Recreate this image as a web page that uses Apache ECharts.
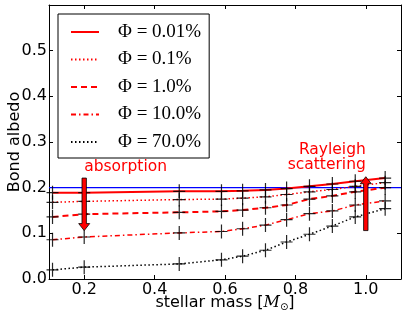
<!DOCTYPE html>
<html>
<head>
<meta charset="utf-8">
<script src="https://cdn.jsdelivr.net/npm/echarts@6/dist/echarts.min.js"></script>
<style>
  html, body { margin: 0; padding: 0; background: #fff; }
  #chart { width: 407px; height: 322px; }
</style>
</head>
<body>
<div id="chart"></div>
<script>
// stellar masses (M_sun) of the model points
const masses = [0.11, 0.2, 0.47, 0.59, 0.65, 0.715, 0.775, 0.84, 0.905, 0.97, 1.055];

// bond albedo per pressure fraction
const phi001 = [0.189, 0.189, 0.192, 0.192, 0.193, 0.195, 0.198, 0.203, 0.208, 0.214, 0.221];
const phi01  = [0.168, 0.170, 0.174, 0.175, 0.177, 0.180, 0.185, 0.191, 0.196, 0.203, 0.211];
const phi1   = [0.136, 0.142, 0.146, 0.148, 0.151, 0.156, 0.162, 0.175, 0.182, 0.191, 0.200];
const phi10  = [0.086, 0.092, 0.101, 0.104, 0.110, 0.118, 0.130, 0.143, 0.149, 0.162, 0.171];
const phi70  = [0.020, 0.026, 0.033, 0.042, 0.050, 0.063, 0.081, 0.098, 0.116, 0.136, 0.154];

const names = ['Φ=0.01%', 'Φ=0.1%', 'Φ=1.0%', 'Φ=10.0%', 'Φ=70.0%'];

const xTicks = [0.2, 0.4, 0.6, 0.8, 1.0];
const refLine = [[0.1, 0.2], [1.1, 0.2]];

// arrows: x, start y, end y (tip)
const arrowX = [0.2, 1.0];
const arrowFrom = [0.221, 0.106];
const arrowTo = [0.106, 0.224];

const noteText = ['absorption', 'Rayleigh\nscattering'];
const noteX = [0.2, 1.0];
const noteY = [0.245, 0.266];
const noteAlign = ['left', 'right'];

const pairs = ys => masses.map((m, i) => [m, ys[i]]);

const chart = echarts.init(document.getElementById('chart'));

const lineDefs = [
  { data: phi001, color: '#ff0000', width: 2, type: 'solid' },
  { data: phi01, color: '#ff0000', width: 1.5, type: [1.5, 2.5] },
  { data: phi1, color: '#ff0000', width: 2, type: [6, 4] },
  { data: phi10, color: '#ff0000', width: 1.5, type: [5, 3, 1.5, 3] },
  { data: phi70, color: '#000000', width: 1.5, type: [1.5, 2.5] }
];

const series = lineDefs.map((d, i) => ({
  name: names[i],
  type: 'line',
  data: pairs(d.data),
  symbol: 'none',
  lineStyle: { color: d.color, width: d.width, type: d.type },
  itemStyle: { color: d.color },
  z: 3
}));

series.push({
  name: 'ref',
  type: 'line',
  data: refLine,
  symbol: 'none',
  lineStyle: { color: '#0000ff', width: 1.2 },
  itemStyle: { color: '#0000ff' },
  z: 2
});

// model points drawn as plus markers
series.push({
  name: 'points',
  type: 'scatter',
  data: [].concat(pairs(phi001), pairs(phi01), pairs(phi1), pairs(phi10), pairs(phi70)),
  symbol: 'path://M0,6.4H12V7.6H0Z M5.4,0H6.6V14H5.4Z',
  symbolSize: [12, 14],
  itemStyle: { color: '#000', opacity: 0.85 },
  z: 4
});

series.push({
  name: 'arrows',
  type: 'custom',
  data: arrowX.map((x, i) => [x, arrowFrom[i], arrowTo[i]]),
  renderItem: function (params, api) {
    const a = api.coord([api.value(0), api.value(1)]);
    const b = api.coord([api.value(0), api.value(2)]);
    const x = a[0];
    const dir = b[1] > a[1] ? 1 : -1;
    const hw = 2.2, hh = 5.5, hl = 7;
    const base = b[1] - dir * hl;
    return {
      type: 'polygon',
      shape: {
        points: [
          [x - hw, a[1]], [x + hw, a[1]], [x + hw, base], [x + hh, base],
          [x, b[1]], [x - hh, base], [x - hw, base]
        ]
      },
      style: { fill: '#ff0000', stroke: '#000', lineWidth: 0.8 }
    };
  },
  z: 5
});

series.push({
  name: 'notes',
  type: 'custom',
  data: noteX.map((x, i) => [x, noteY[i]]),
  renderItem: function (params, api) {
    const p = api.coord([api.value(0), api.value(1)]);
    const i = params.dataIndex;
    return {
      type: 'text',
      x: p[0],
      y: p[1],
      style: {
        text: noteText[i],
        fill: '#ff0000',
        font: '15.5px "DejaVu Sans"',
        align: noteAlign[i],
        verticalAlign: 'middle',
        lineHeight: 15.5
      }
    };
  },
  z: 5
});

const axisCommon = {
  axisLine: { onZero: false, lineStyle: { color: '#000', width: 1 } },
  axisTick: { inside: true, length: 4, lineStyle: { color: '#000' } },
  splitLine: { show: false }
};

const option = {
  animation: false,
  backgroundColor: '#fff',
  grid: { left: 49, right: 6, top: 5, bottom: 43, containLabel: false, outerBoundsMode: 'none' },
  legend: {
    data: names,
    orient: 'vertical',
    left: 58,
    top: 14,
    padding: [8, 8, 6, 12],
    itemGap: 7.5,
    itemWidth: 28,
    itemHeight: 14,
    borderColor: '#000',
    borderWidth: 1,
    backgroundColor: '#fff',
    borderRadius: 0,
    itemStyle: { opacity: 0 },
    textStyle: {
      fontFamily: 'Liberation Serif',
      fontSize: 19,
      lineHeight: 20,
      color: '#000',
      padding: [0, 0, 0, 14]
    },
    formatter: n => n.replace('=', ' = ')
  },
  xAxis: [
    Object.assign({}, axisCommon, {
      type: 'value',
      min: 0.1,
      max: 1.1,
      position: 'bottom',
      axisTick: Object.assign({}, axisCommon.axisTick, { customValues: xTicks }),
      axisLabel: {
        customValues: xTicks,
        formatter: v => v.toFixed(1),
        fontFamily: 'DejaVu Sans',
        fontSize: 16,
        color: '#000',
        margin: 3
      },
      name: 'stellar mass [{i|M}{s|⊙}]',
      nameLocation: 'middle',
      nameGap: 15,
      nameMoveOverlap: false,
      nameTextStyle: {
        fontFamily: 'DejaVu Sans',
        fontSize: 16,
        color: '#000',
        rich: {
          i: { fontFamily: 'DejaVu Serif', fontStyle: 'italic', fontSize: 16, color: '#000' },
          s: { fontFamily: 'DejaVu Sans', fontSize: 10, color: '#000', padding: [8, 0, 0, 0] }
        }
      }
    }),
    Object.assign({}, axisCommon, {
      type: 'value',
      min: 0.1,
      max: 1.1,
      position: 'top',
      axisTick: Object.assign({}, axisCommon.axisTick, { customValues: xTicks }),
      axisLabel: { show: false }
    })
  ],
  yAxis: [
    Object.assign({}, axisCommon, {
      type: 'value',
      min: 0,
      max: 0.6,
      interval: 0.1,
      position: 'left',
      axisLabel: {
        formatter: v => (v > 0.55 ? '' : v.toFixed(1)),
        fontFamily: 'DejaVu Sans',
        fontSize: 16,
        color: '#000',
        margin: 2
      },
      name: 'Bond albedo',
      nameLocation: 'middle',
      nameGap: 26,
      nameRotate: 90,
      nameMoveOverlap: false,
      nameTextStyle: { fontFamily: 'DejaVu Sans', fontSize: 16, color: '#000' }
    }),
    Object.assign({}, axisCommon, {
      type: 'value',
      min: 0,
      max: 0.6,
      interval: 0.1,
      position: 'right',
      axisLabel: { show: false }
    })
  ],
  series: series
};

chart.setOption(option);
</script>
</body>
</html>
